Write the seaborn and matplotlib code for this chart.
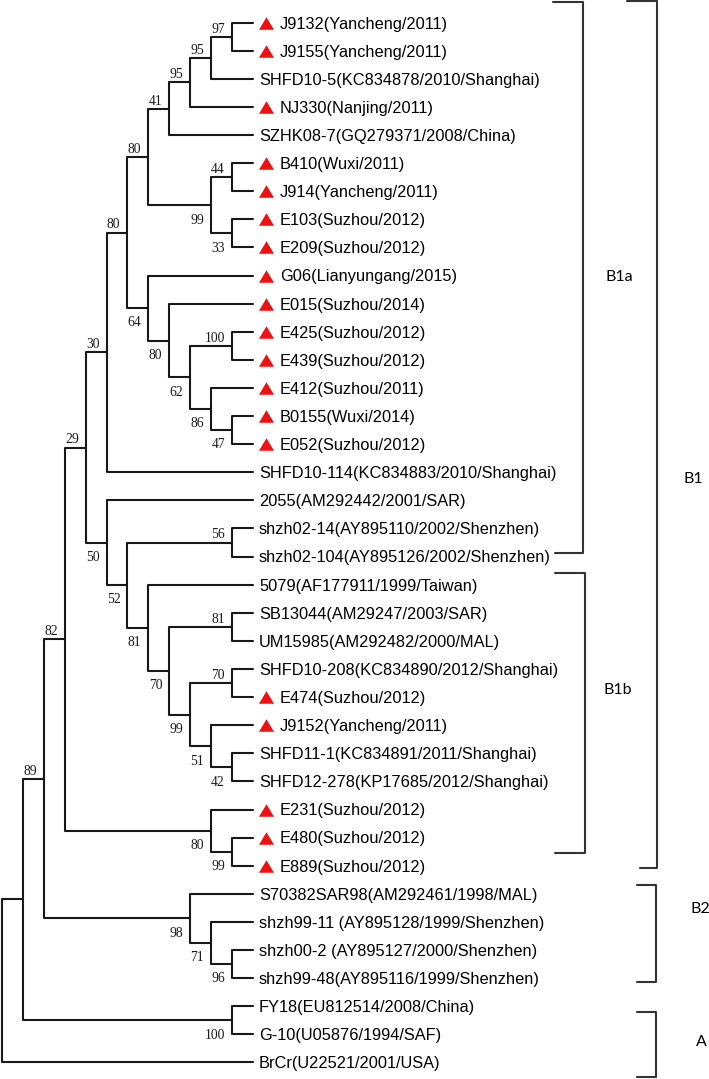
import matplotlib
matplotlib.use("Agg")
import matplotlib.pyplot as plt
import matplotlib.transforms as mtransforms
from matplotlib.path import Path
import numpy as np
import pandas as pd
import seaborn as sns

# leaf labels, top to bottom
strains = [
    "J9132(Yancheng/2011)", "J9155(Yancheng/2011)", "SHFD10-5(KC834878/2010/Shanghai)",
    "NJ330(Nanjing/2011)", "SZHK08-7(GQ279371/2008/China)", "B410(Wuxi/2011)",
    "J914(Yancheng/2011)", "E103(Suzhou/2012)", "E209(Suzhou/2012)",
    "G06(Lianyungang/2015)", "E015(Suzhou/2014)", "E425(Suzhou/2012)",
    "E439(Suzhou/2012)", "E412(Suzhou/2011)", "B0155(Wuxi/2014)",
    "E052(Suzhou/2012)", "SHFD10-114(KC834883/2010/Shanghai)", "2055(AM292442/2001/SAR)",
    "shzh02-14(AY895110/2002/Shenzhen)", "shzh02-104(AY895126/2002/Shenzhen)",
    "5079(AF177911/1999/Taiwan)", "SB13044(AM29247/2003/SAR)", "UM15985(AM292482/2000/MAL)",
    "SHFD10-208(KC834890/2012/Shanghai)", "E474(Suzhou/2012)", "J9152(Yancheng/2011)",
    "SHFD11-1(KC834891/2011/Shanghai)", "SHFD12-278(KP17685/2012/Shanghai)",
    "E231(Suzhou/2012)", "E480(Suzhou/2012)", "E889(Suzhou/2012)",
    "S70382SAR98(AM292461/1998/MAL)", "shzh99-11 (AY895128/1999/Shenzhen)",
    "shzh00-2 (AY895127/2000/Shenzhen)", "shzh99-48(AY895116/1999/Shenzhen)",
    "FY18(EU812514/2008/China)", "G-10(U05876/1994/SAF)", "BrCr(U22521/2001/USA)",
]
# strains from this study (red triangle)
this_study = [1, 1, 0, 1, 0, 1, 1, 1, 1, 1, 1, 1, 1, 1, 1, 1, 0, 0, 0, 0,
              0, 0, 0, 0, 1, 1, 0, 0, 1, 1, 1, 0, 0, 0, 0, 0, 0, 0]

# topology, leaves as index into strains, bootstrap after ')'
newick = ("((((((((((((0,1)97,2)95,3)95,4)41,((5,6)44,(7,8)33)99)80,"
          "(9,(10,((11,12)100,(13,(14,15)47)86)62)80)64)80,16)30,"
          "(17,((18,19)56,(20,((21,22)81,((23,24)70,(25,(26,27)42)51)99)70)81)52)50)29,"
          "(28,(29,30)99)80)82,(31,(32,(33,34)96)71)98)89,(35,36)100),37)")

clades = ["B1a", "B1b", "B1", "B2", "A"]

# bracket layout: x in pixels, y in leaf rows
bracket_x = [583, 585, 657, 656, 656]
bracket_arm_top = [553, 555, 627, 637, 637]
bracket_arm_bot = [555, 555, 640, 637, 637]
bracket_top = [-0.74, 19.58, -0.77, 30.69, 35.21]
bracket_bot = [18.87, 29.55, 30.08, 34.14, 37.52]
clade_lab_x = [619, 618, 693, 700, 701]
clade_lab_y = [8.98, 23.68, 16.17, 31.47, 36.2]

W, H = 709, 1079


def parse(s):
    pos = 0

    def node():
        nonlocal pos
        if s[pos] == "(":
            pos += 1
            kids = [node()]
            while s[pos] == ",":
                pos += 1
                kids.append(node())
            pos += 1
            lab = ""
            while pos < len(s) and s[pos] not in ",);":
                lab += s[pos]
                pos += 1
            return {"kids": kids, "support": lab}
        lab = ""
        while s[pos] not in ",);":
            lab += s[pos]
            pos += 1
        return {"leaf": int(lab)}

    return node()


def height(n):
    if "leaf" in n:
        n["h"] = 0
    else:
        n["h"] = 1 + max(height(k) for k in n["kids"])
    return n["h"]


def layout(n, top):
    n["x"] = top - n["h"]
    if "leaf" in n:
        n["y"] = n["leaf"]
    else:
        for k in n["kids"]:
            layout(k, top)
        n["y"] = (n["kids"][0]["y"] + n["kids"][-1]["y"]) / 2


def collect(n, rows, inner, first=True):
    if "leaf" in n:
        return
    k0, k1 = n["kids"][0], n["kids"][-1]
    sid = len(inner)
    inner.append((n["x"], n["y"], n["support"], first))
    for x, y in [(k0["x"], k0["y"]), (n["x"], k0["y"]), (n["x"], k1["y"]), (k1["x"], k1["y"])]:
        rows.append({"seg": sid, "x": x, "y": y})
    for i, k in enumerate(n["kids"]):
        collect(k, rows, inner, i == 0)


def main():
    sns.set_theme(style="white")
    fig = plt.figure(figsize=(W / 100, H / 100), dpi=100)
    ax = fig.add_axes([0, 0, 1, 1])

    tree = parse(newick)
    top = height(tree)
    layout(tree, top)
    rows, inner = [], []
    collect(tree, rows, inner)
    seg = pd.DataFrame(rows)

    sns.lineplot(data=seg, x="x", y="y", units="seg", estimator=None, sort=False,
                 color="#181818", lw=1.5, ax=ax, legend=False)

    # bootstrap values
    for x, y, sup, upper in inner:
        if not sup:
            continue
        ax.annotate(sup, (x, y), xytext=(-5, 3 if upper else -13.2), textcoords="offset points",
                    ha="right", va="baseline", fontsize=9.8, family="Liberation Serif",
                    color="#1a1a1a")

    # tips
    leaves = pd.DataFrame({"x": [top] * len(strains), "y": np.arange(len(strains)),
                           "mark": this_study})
    marked = leaves[leaves["mark"] == 1]
    tri = Path([(-1, -0.83), (1, -0.83), (0, 0.83), (-1, -0.83)])
    shift = mtransforms.ScaledTranslation(13.2 / 100, 0, fig.dpi_scale_trans)
    sns.scatterplot(data=marked, x="x", y="y", marker=tri, s=118, color="#ee1111",
                    linewidth=0, ax=ax, legend=False, transform=ax.transData + shift)

    for i, name in enumerate(strains):
        dx = 19.6 if this_study[i] else 4.5
        ax.annotate(name, (top, i), xytext=(dx, -4.2), textcoords="offset points",
                    ha="left", va="baseline", fontsize=11.8, family="Liberation Sans",
                    color="black")

    # clade brackets
    trans = mtransforms.blended_transform_factory(ax.transAxes, ax.transData)
    for i, c in enumerate(clades):
        bx = bracket_x[i] / W
        ax.plot([bracket_arm_top[i] / W, bx, bx, bracket_arm_bot[i] / W],
                [bracket_top[i], bracket_top[i], bracket_bot[i], bracket_bot[i]],
                transform=trans, color="#333333", lw=1.5, clip_on=False)
        ax.annotate(c, (clade_lab_x[i] / W, clade_lab_y[i]), xycoords=trans,
                    xytext=(0, -4.1), textcoords="offset points", ha="center", va="baseline",
                    fontsize=11.5, family="Lato", color="black")

    step = 20.9
    ax.set_xlim(-2 / step, (W - 2) / step)
    ax.set_ylim((H - 22.7) / 28.1, -22.7 / 28.1)
    ax.axis("off")
    fig.savefig("out.png", dpi=100)


if __name__ == '__main__':
    main()
